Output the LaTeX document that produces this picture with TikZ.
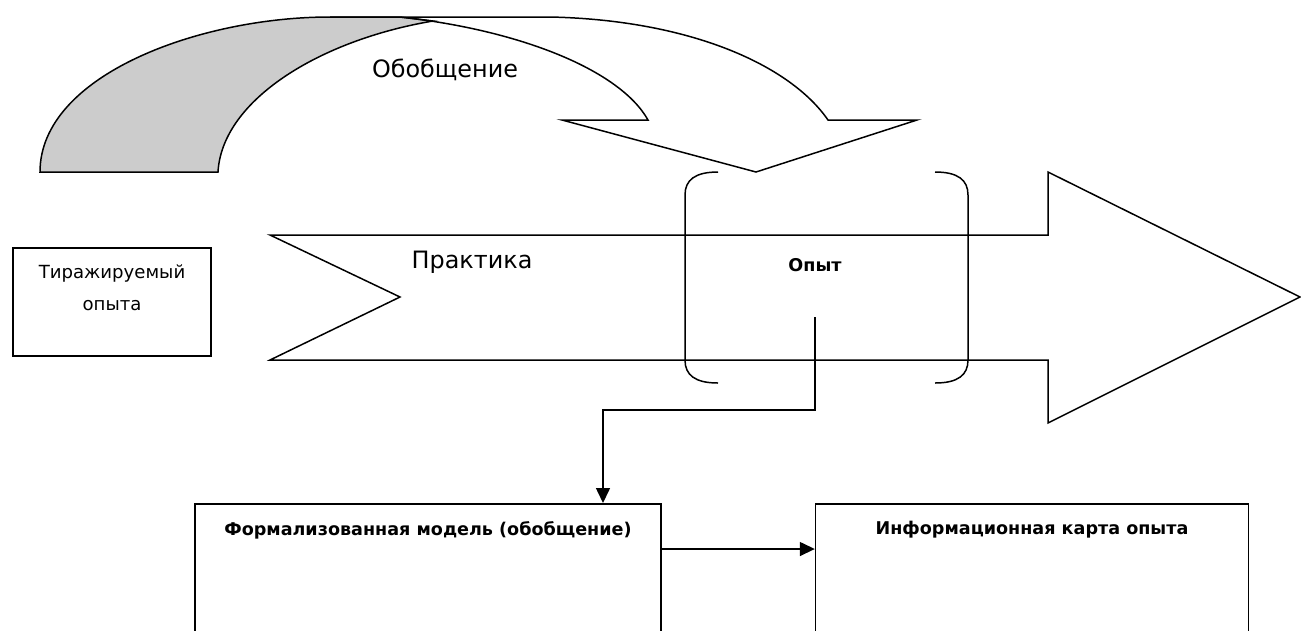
\documentclass[tikz,border=0pt]{standalone}
\usepackage{fontspec}
\setmainfont{DejaVu Sans}
\usetikzlibrary{arrows.meta}

\begin{document}
\begin{tikzpicture}[
  x=0.02cm, y=-0.02cm,
  shape_line/.style={draw=black, line width=0.85pt, line join=miter},
  back_band/.style={shape_line, fill=black!20},
  box/.style={draw, line width=0.85pt, rectangle, inner sep=0pt},
  big_text/.style={font=\fontsize{13.6}{17}\selectfont},
  small_text/.style={font=\fontsize{10.3}{18}\selectfont, align=center},
  bold_text/.style={font=\fontsize{10}{12}\selectfont\bfseries},
  conn/.style={draw, line width=0.85pt, -{Triangle[length=0.3cm,width=0.28cm]}}
  ]
	\useasboundingbox (0,0) rectangle (1301,630);

	\draw[back_band] (40,172) .. controls (40,75) and (200,17) .. (330,17) -- (400,17) -- (433,21) .. controls (320,40) and (222,100) .. (218,172) -- cycle;
	\draw[shape_line] (330,17) -- (550,17) .. controls (690,20) and (790,65) .. (828,120) -- (917,120) -- (756,172) -- (562,120) -- (648,120) .. controls (620,70) and (520,30) .. (400,17);
	\node[big_text] (obob) at (445,70) {Обобщение};

	\draw[shape_line] (270,235) -- (1048,235) -- (1048,172) -- (1300,297) -- (1048,423) -- (1048,360) -- (270,360) -- (400,297) -- cycle;
	\node[big_text] (prak) at (472,262) {Практика};

	\draw[shape_line] (718,172) .. controls (695,172) and (685,180) .. (685,195) -- (685,360) .. controls (685,375) and (695,383) .. (718,383);
	\draw[shape_line] (935,172) .. controls (958,172) and (968,180) .. (968,195) -- (968,360) .. controls (968,375) and (958,383) .. (935,383);
	\node[bold_text] (opyt) at (815,265) {Опыт};

	\node[box, minimum width=3.96cm, minimum height=2.16cm] (tir) at (112,302) {};
	\node[small_text] (tir_t) at (112,288) {Тиражируемый\\опыта};

	\node[box, anchor=north, minimum width=9.32cm, minimum height=3cm] (model) at (428,503) {};
	\node[bold_text] (model_t) at (428,530) {Формализованная модель (обобщение)};
	\node[box, anchor=north, minimum width=8.66cm, minimum height=3cm] (card) at (1032,503) {};
	\node[bold_text] (card_t) at (1032,530) {Информационная карта опыта};

	\coordinate (c1) at (815,317);
	\coordinate (c2) at (815,410);
	\coordinate (c3) at (603,410);
	\draw[conn] (c1) -- (c2) -- (c3) -- (c3 |- model.north);
	\draw[conn] (model.east |- 0,549) -- (card.west |- 0,549);
\end{tikzpicture}
\end{document}
